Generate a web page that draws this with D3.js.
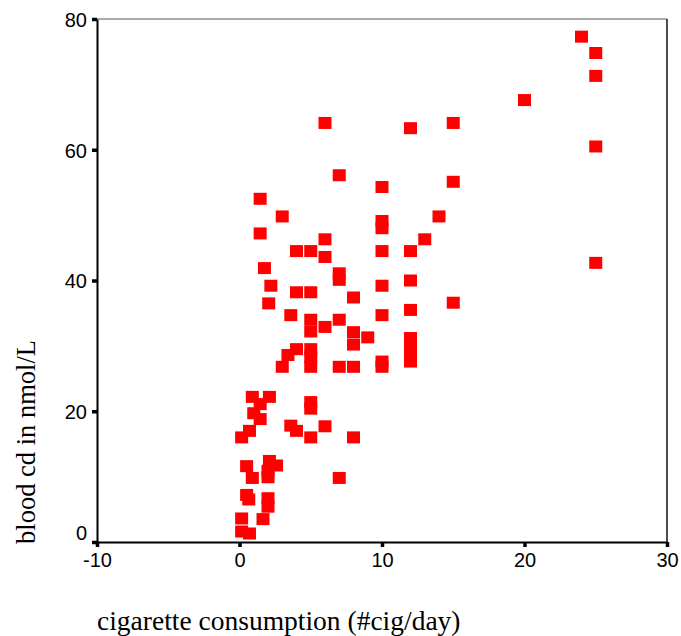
<!DOCTYPE html>
<html>
<head>
<meta charset="utf-8">
<script src="https://cdn.jsdelivr.net/npm/d3@7"></script>
<style>
  html, body { margin: 0; padding: 0; background: #fff; }
  svg { display: block; }
</style>
</head>
<body>
<svg id="chart" width="681" height="636"></svg>
<script>
// cigarette consumption (#cig/day)
const cigPerDay = [
  24, 25, 25, 20, 25, 25,
  15, 15, 15,
  12, 12, 12, 12, 12, 12, 12, 12,
  13, 14,
  10, 10, 10, 10, 10, 10, 10, 10,
  9,
  8, 8, 8, 8, 8,
  7, 7, 7, 7, 7, 7,
  6, 6, 6, 6, 6,
  5, 5, 5, 5, 5, 5, 5, 5, 5, 5,
  4, 4, 4, 4,
  3.6, 3.6, 3.4, 3, 3,
  2.2, 2.05, 1.75, 1.45, 1.45,
  2.1, 0.9, 1.45, 1.0, 1.45, 0.7, 0.15,
  2.1, 2.6, 2.0, 2.0, 0.5, 0.9,
  0.5, 0.65, 2.0, 2.0, 1.65, 0.15, 0.15, 0.7
];
// blood cd in nmol/L
const bloodCd = [
  77.3, 74.8, 71.3, 67.6, 60.5, 42.7,
  64.1, 55.1, 36.6,
  63.3, 44.5, 40.0, 35.5, 31.2, 30.0, 28.8, 27.6,
  46.3, 49.8,
  54.3, 49.1, 48.0, 44.5, 39.2, 34.7, 27.6, 26.8,
  31.3,
  37.4, 32.1, 30.2, 26.8, 16.0,
  56.1, 41.1, 40.1, 34.0, 26.8, 9.8,
  64.1, 46.3, 43.6, 32.9, 17.7,
  44.5, 38.2, 34.0, 32.2, 29.5, 28.3, 26.8, 21.4, 20.4, 16.0,
  44.5, 38.2, 29.5, 17.0,
  34.7, 17.8, 28.6, 49.8, 26.8,
  39.2, 36.5, 41.9, 52.5, 47.2,
  22.2, 22.2, 21.1, 19.7, 18.8, 17.0, 16.0,
  12.4, 11.7, 10.9, 9.9, 11.6, 9.8,
  7.2, 6.5, 6.7, 5.4, 3.5, 3.6, 1.6, 1.3
];
const xTicks = [-10, 0, 10, 20, 30];
const yTicks = [0, 20, 40, 60, 80];
const xDomain = [-10, 30];
const yDomain = [0, 80];
const xTitle = "cigarette consumption (#cig/day)";
const yTitle = "blood cd in nmol/L";

const points = cigPerDay.map((c, i) => ({ x: c, y: bloodCd[i] }));

const svg = d3.select("#chart");
const pLeft = 97, pRight = 667, pTop = 19, pBottom = 542;

const x = d3.scaleLinear().domain(xDomain).range([pLeft, pRight]);
const y = d3.scaleLinear().domain(yDomain).range([pBottom, pTop]);

const tickFont = "'Liberation Sans', Arial, sans-serif";
const titleFont = "'Liberation Serif', 'Times New Roman', serif";

// frame top & right
svg.append("line")
  .attr("x1", pLeft).attr("x2", pRight).attr("y1", pTop).attr("y2", pTop)
  .attr("stroke", "#555").attr("stroke-width", 1);
svg.append("line")
  .attr("x1", pRight).attr("x2", pRight).attr("y1", pTop).attr("y2", pBottom)
  .attr("stroke", "#111").attr("stroke-width", 1.5);

// points
const mw = 13, mh = 12;
svg.append("g").selectAll("rect")
  .data(points)
  .join("rect")
  .attr("x", d => x(d.x) - mw / 2)
  .attr("y", d => y(d.y) - mh / 2)
  .attr("width", mw)
  .attr("height", mh)
  .attr("fill", "#ff0000");

// x axis
const gx = svg.append("g")
  .attr("transform", `translate(0,${pBottom})`)
  .call(d3.axisBottom(x).tickValues(xTicks).tickFormat(d => String(d)).tickSize(5).tickSizeOuter(0).tickPadding(6));
gx.select(".domain").attr("stroke", "#000").attr("stroke-width", 2);
gx.selectAll(".tick line").attr("stroke", "#000").attr("stroke-width", 3.5);
gx.selectAll(".tick text")
  .attr("font-family", tickFont).attr("font-size", 20).attr("fill", "#000");

// y axis
const gy = svg.append("g")
  .attr("transform", `translate(${pLeft},0)`)
  .call(d3.axisLeft(y).tickValues(yTicks).tickFormat(d => String(d)).tickSize(5).tickSizeOuter(0).tickPadding(5));
gy.select(".domain").attr("stroke", "#000").attr("stroke-width", 2);
gy.selectAll(".tick line").attr("stroke", "#000").attr("stroke-width", 3.5);
gy.selectAll(".tick text")
  .attr("font-family", tickFont).attr("font-size", 20).attr("fill", "#000")
  .attr("y", d => d === 0 ? -9 : 1);

// titles
svg.append("text")
  .attr("x", pLeft).attr("y", 630)
  .attr("font-family", titleFont).attr("font-size", 27.5).attr("fill", "#000")
  .text(xTitle);

svg.append("text")
  .attr("transform", "translate(35,442) rotate(-90)")
  .attr("text-anchor", "middle")
  .attr("font-family", titleFont).attr("font-size", 26.5).attr("fill", "#000")
  .text(yTitle);
</script>
</body>
</html>
